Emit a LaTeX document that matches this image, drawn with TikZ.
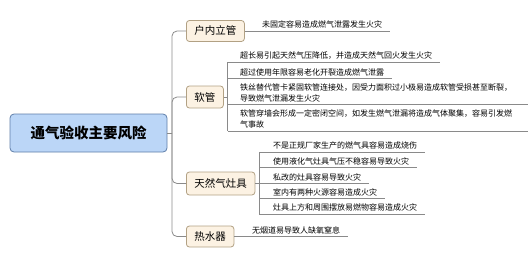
\documentclass[tikz,border=0pt]{standalone}
\usepackage{fontspec}
\setmainfont{Noto Sans CJK SC}
\usetikzlibrary{calc}
\definecolor{rootfill}{HTML}{BBD6F7}
\definecolor{rootdraw}{HTML}{5E7EA8}
\definecolor{subfill}{HTML}{FCF2E3}
\definecolor{subdraw}{HTML}{B2A184}
\definecolor{lncol}{HTML}{8A8A8A}

\begin{document}
\begin{tikzpicture}[x=1pt,y=-1pt,
  ln/.style={draw=lncol,line width=.8pt},
  rootbox/.style={draw=rootdraw,fill=rootfill,line width=.8pt,rounded corners=4pt,minimum width=157pt,minimum height=38pt,font=\fontsize{14.5}{16}\selectfont\bfseries},
  sub/.style={draw=subdraw,fill=subfill,line width=.8pt,rounded corners=3pt,anchor=west,inner xsep=8pt,minimum height=21pt,font=\fontsize{10.5}{12}\selectfont},
  leaf/.style={anchor=south west,inner xsep=0pt,inner ysep=2.5pt,align=left,font=\fontsize{8}{11}\selectfont}]
\useasboundingbox (0,0) rectangle (532,260);
\node[rootbox] (root) at (88.5,133) {通气验收主要风险};
\node[sub] (hn) at (186,31) {户内立管};
\node[sub,minimum height=22pt] (rg) at (186,97) {软管};
\node[sub,minimum height=23pt] (zj) at (186,183.5) {天然气灶具};
\node[sub] (rs) at (186,236.5) {热水器};
\coordinate (j) at (172,133);
\draw[ln] (root.east) -- (j);
\foreach \n in {hn,rg,zj,rs} \draw[ln,rounded corners=5pt] (j) |- (\n.west);
\node[leaf] (h1) at (262,31) {未固定容易造成燃气泄露发生火灾};
\draw[ln] (hn.east) -- ([xshift=8pt]h1.south east);
\node[leaf] (r1) at (240,62) {超长易引起天然气压降低，并造成天然气回火发生火灾};
\node[leaf] (r2) at (240,78.5) {超过使用年限容易老化开裂造成燃气泄露};
\node[leaf,text width=280pt] (r3) at (240,104.5) {铁丝替代管卡紧固软管连接处，因受力面积过小极易造成软管受损甚至断裂，\\导致燃气泄漏发生火灾};
\node[leaf,text width=280pt] (r4) at (240,131) {软管穿墙会形成一定密闭空间，如发生燃气泄漏将造成气体聚集，容易引发燃\\气事故};
\coordinate (rgb) at ([xshift=4pt]rg.east);
\draw[ln] (rg.east) -- (rgb);
\draw[ln] (rgb |- r1.south) -- (rgb |- r4.south);
\foreach \r in {r1,r2,r3,r4} \draw[ln] (rgb |- \r.south) -- ([xshift=8pt]\r.south east);
\node[leaf] (z1) at (273,152) {不是正规厂家生产的燃气具容易造成烧伤};
\node[leaf] (z2) at (273,167.5) {使用液化气灶具气压不稳容易导致火灾};
\node[leaf] (z3) at (273,183.5) {私改的灶具容易导致火灾};
\node[leaf] (z4) at (273,198.5) {室内有两种火源容易造成火灾};
\node[leaf] (z5) at (273,214) {灶具上方和周围摆放易燃物容易造成火灾};
\coordinate (zjb) at ([xshift=4pt]zj.east);
\draw[ln] (zj.east) -- (zjb);
\draw[ln] (zjb |- z1.south) -- (zjb |- z5.south);
\foreach \z in {z1,z2,z3,z4,z5} \draw[ln] (zjb |- \z.south) -- ([xshift=8pt]\z.south east);
\node[leaf] (s1) at (252,236.5) {无烟道易导致人缺氧窒息};
\draw[ln] (rs.east) -- ([xshift=8pt]s1.south east);
\end{tikzpicture}
\end{document}
